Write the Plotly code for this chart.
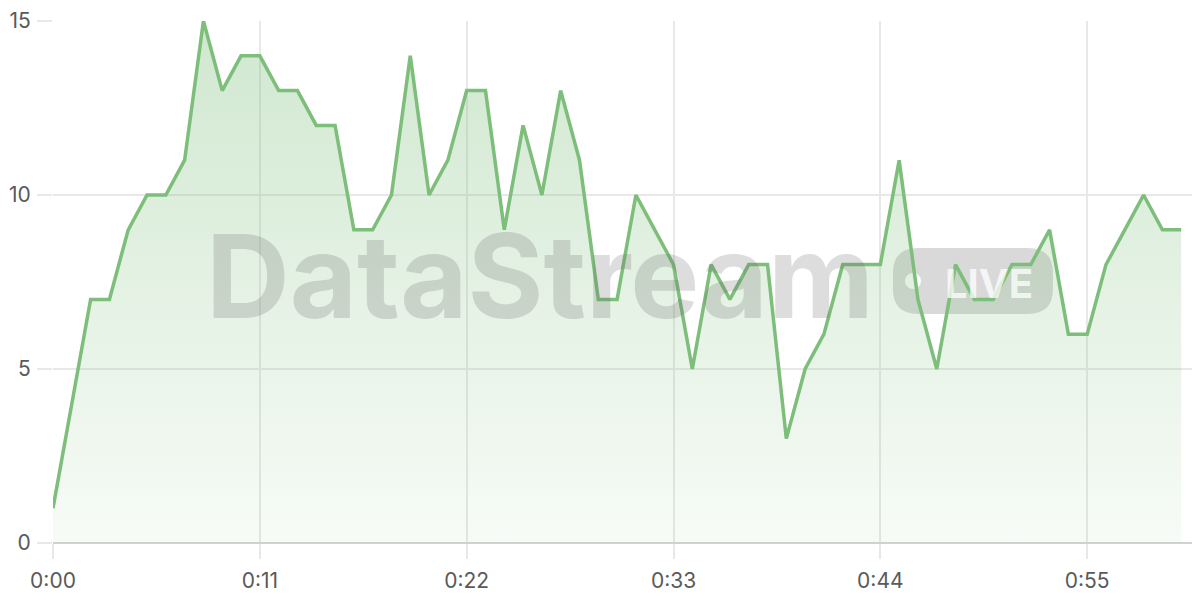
import plotly.graph_objects as go

# Inputs
seconds = list(range(61))
valeurs = [1, 4, 7, 7, 9, 10, 10, 11, 15, 13,
           14, 14, 13, 13, 12, 12, 9, 9, 10, 14,
           10, 11, 13, 13, 9, 12, 10, 13, 11, 7,
           7, 10, 9, 8, 5, 8, 7, 8, 8, 3,
           5, 6, 8, 8, 8, 11, 7, 5, 8, 7,
           7, 8, 8, 9, 6, 6, 8, 9, 10, 9,
           9]
x_ticks = [0, 11, 22, 33, 44, 55]
x_labels = ["0:00", "0:11", "0:22", "0:33", "0:44", "0:55"]
y_ticks = [0, 5, 10, 15]

vert = "rgb(124,190,122)"
grille = "rgb(232,232,232)"
police = "Inter, Roboto, Liberation Sans, sans-serif"

fig = go.Figure(go.Scatter(
    x=seconds, y=valeurs,
    mode="lines",
    line=dict(color=vert, width=3.5),
    fill="tozeroy",
    fillgradient=dict(
        type="vertical",
        colorscale=[[0, "rgba(124,190,122,0.06)"], [1, "rgba(124,190,122,0.36)"]],
    ),
    hoverinfo="skip",
))

# Filigrane "DataStream LIVE" (badge + point sous les donnees)
fig.add_shape(
    type="path", xref="paper", yref="paper", layer="below",
    path="M 0.7541,0.5649 L 0.8500,0.5649 Q 0.8718,0.5649 0.8718,0.5172 "
         "L 0.8718,0.4866 Q 0.8718,0.4389 0.8500,0.4389 L 0.7541,0.4389 "
         "Q 0.7323,0.4389 0.7323,0.4866 L 0.7323,0.5172 Q 0.7323,0.5649 0.7541,0.5649 Z",
    fillcolor="rgba(128,128,128,0.3)", line=dict(width=0),
)
fig.add_shape(
    type="circle", xref="paper", yref="paper", layer="below",
    x0=0.7428, x1=0.7568, y0=0.4866, y1=0.5172,
    fillcolor="rgba(255,255,255,0.95)", line=dict(width=0),
)
fig.add_annotation(
    text="<b>DataStream</b>", xref="paper", yref="paper",
    x=0.4246, y=0.512, xanchor="center", yanchor="middle", showarrow=False,
    font=dict(family=police, size=116, color="rgba(110,110,110,0.23)"),
)
fig.add_annotation(
    text="<b>LIVE</b>", xref="paper", yref="paper",
    x=0.8160, y=0.497, xanchor="center", yanchor="middle", showarrow=False,
    font=dict(family=police, size=40, color="rgba(255,255,255,0.75)"),
)

# la page ajoute une marge de 8 px autour de la figure
fig.update_layout(
    width=1192, height=592,
    margin=dict(l=45, r=0, t=13, b=57),
    paper_bgcolor="white", plot_bgcolor="white",
    showlegend=False,
    font=dict(family=police, size=21, color="rgb(90,90,90)"),
    xaxis=dict(
        range=[0, 61], tickvals=x_ticks, ticktext=x_labels,
        showgrid=True, gridcolor=grille, gridwidth=1.5,
        ticks="outside", ticklen=15, tickcolor=grille, tickwidth=1.5,
        showline=False, zeroline=False, automargin=False,
        ticklabelstandoff=4, ticklabeloverflow="allow",
    ),
    yaxis=dict(
        range=[0, 15], tickvals=y_ticks,
        showgrid=True, gridcolor=grille, gridwidth=1.5,
        ticks="outside", ticklen=15, tickcolor=grille, tickwidth=1.5,
        zeroline=True, zerolinecolor="rgb(210,210,210)", zerolinewidth=2,
        showline=False, ticklabelstandoff=2, automargin=False,
        ticklabeloverflow="allow",
    ),
)

fig.write_html("out.html")
